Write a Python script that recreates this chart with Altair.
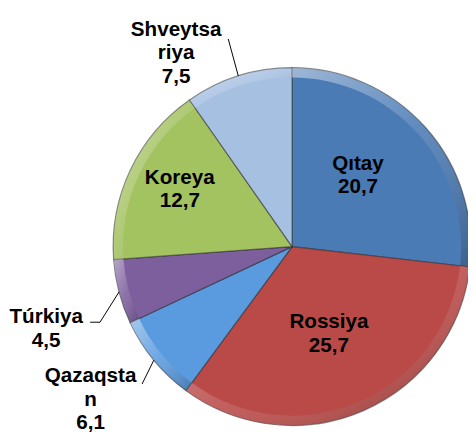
import altair as alt
import pandas as pd

# ---- data ----
countries = ["Qıtay", "Rossiya", "Qazaqstan", "Túrkiya", "Koreya", "Shveytsariya"]
values = [20.7, 25.7, 6.1, 4.5, 12.7, 7.5]
label_names = ["Qıtay", "Rossiya", "Qazaqsta\nn", "Túrkiya", "Koreya", "Shveytsa\nriya"]
colors = ["#4B7BB5", "#B94A48", "#5A9BE0", "#7D5F9E", "#A3C260", "#A6C0E2"]

# ---- label layout (placement only) ----
label_radius = [103, 91, 247, 262, 131, 245]
label_nudge = [-7.6, -0.8, 5.5, -2.6, 3.9, -11.3]
leader_radius = [0, 0, 207, 210, 0, 221]
leader_nudge = [0, 0, -3.1, -6.8, 0, 0.4]
leader_hook = [0, 0, 0, -10, 0, 0]

CX, CY, R = 289, 239, 182
FONT = "Liberation Sans"

df = pd.DataFrame({
    "country": countries,
    "value": values,
    "order": list(range(len(countries))),
    "label": [f"{n}\n" + f"{v:.1f}".replace(".", ",") for n, v in zip(label_names, values)],
    "lr": label_radius,
    "ln": label_nudge,
    "er": leader_radius,
    "en": leader_nudge,
    "hook": leader_hook,
})

theta = alt.Theta("value:Q", stack=True)
order = alt.Order("order:Q")
color = alt.Color("country:N", scale=alt.Scale(domain=countries, range=colors), legend=None)

arcs = alt.Chart(df).mark_arc(
    outerRadius=R, stroke="#2a2a2a", strokeWidth=1.2, strokeOpacity=0.55
).encode(theta=theta, order=order, color=color, x=alt.value(CX), y=alt.value(CY))

rim_fill = {
    "gradient": "linear", "x1": 0, "y1": 0, "x2": 1, "y2": 1,
    "stops": [
        {"offset": 0, "color": "rgba(255,255,255,0.45)"},
        {"offset": 0.5, "color": "rgba(255,255,255,0.12)"},
        {"offset": 1, "color": "rgba(0,0,0,0.22)"},
    ],
}
rim = alt.Chart(df).mark_arc(
    outerRadius=R, innerRadius=R - 10, fill=rim_fill, strokeWidth=0
).encode(theta=theta, order=order, x=alt.value(CX), y=alt.value(CY))

base = (
    alt.Chart(df)
    .transform_window(cum="sum(value)", sort=[alt.SortField("order")], frame=[None, 0])
    .transform_joinaggregate(total="sum(value)")
    .transform_calculate(mid="(datum.cum - datum.value/2) / datum.total * 2 * PI")
)

labels = base.transform_calculate(
    a="datum.mid + datum.ln * PI / 180"
).transform_calculate(
    lx=f"{CX} + datum.lr * sin(datum.a)",
    ly=f"{CY} - datum.lr * cos(datum.a)",
).mark_text(
    font=FONT, fontSize=21, fontWeight="bold", lineBreak="\n", lineHeight=24,
    align="center", baseline="alphabetic", color="black"
).encode(
    x=alt.X("lx:Q", scale=None, axis=None),
    y=alt.Y("ly:Q", scale=None, axis=None),
    text="label:N",
)

leaders_base = base.transform_filter("datum.er > 0").transform_calculate(
    b="datum.mid + datum.en * PI / 180"
).transform_calculate(
    sx=f"{CX} + {R} * sin(datum.mid)",
    sy=f"{CY} - {R} * cos(datum.mid)",
    ex=f"{CX} + datum.er * sin(datum.b)",
    ey=f"{CY} - datum.er * cos(datum.b)",
).transform_calculate(hx="datum.ex + datum.hook")

leaders = leaders_base.mark_rule(color="black", strokeWidth=1).encode(
    x=alt.X("sx:Q", scale=None, axis=None),
    y=alt.Y("sy:Q", scale=None, axis=None),
    x2="ex:Q",
    y2="ey:Q",
)

hooks = leaders_base.transform_filter("datum.hook != 0").mark_rule(
    color="black", strokeWidth=1
).encode(
    x=alt.X("ex:Q", scale=None, axis=None),
    y=alt.Y("ey:Q", scale=None, axis=None),
    x2="hx:Q",
)

chart = alt.layer(arcs, rim, leaders, hooks, labels).properties(
    width=468, height=431,
    autosize=alt.AutoSizeParams(type="none"),
    padding=0,
).configure_view(stroke=None)

chart.save("out.html", embed_options={"renderer": "svg", "actions": False})
